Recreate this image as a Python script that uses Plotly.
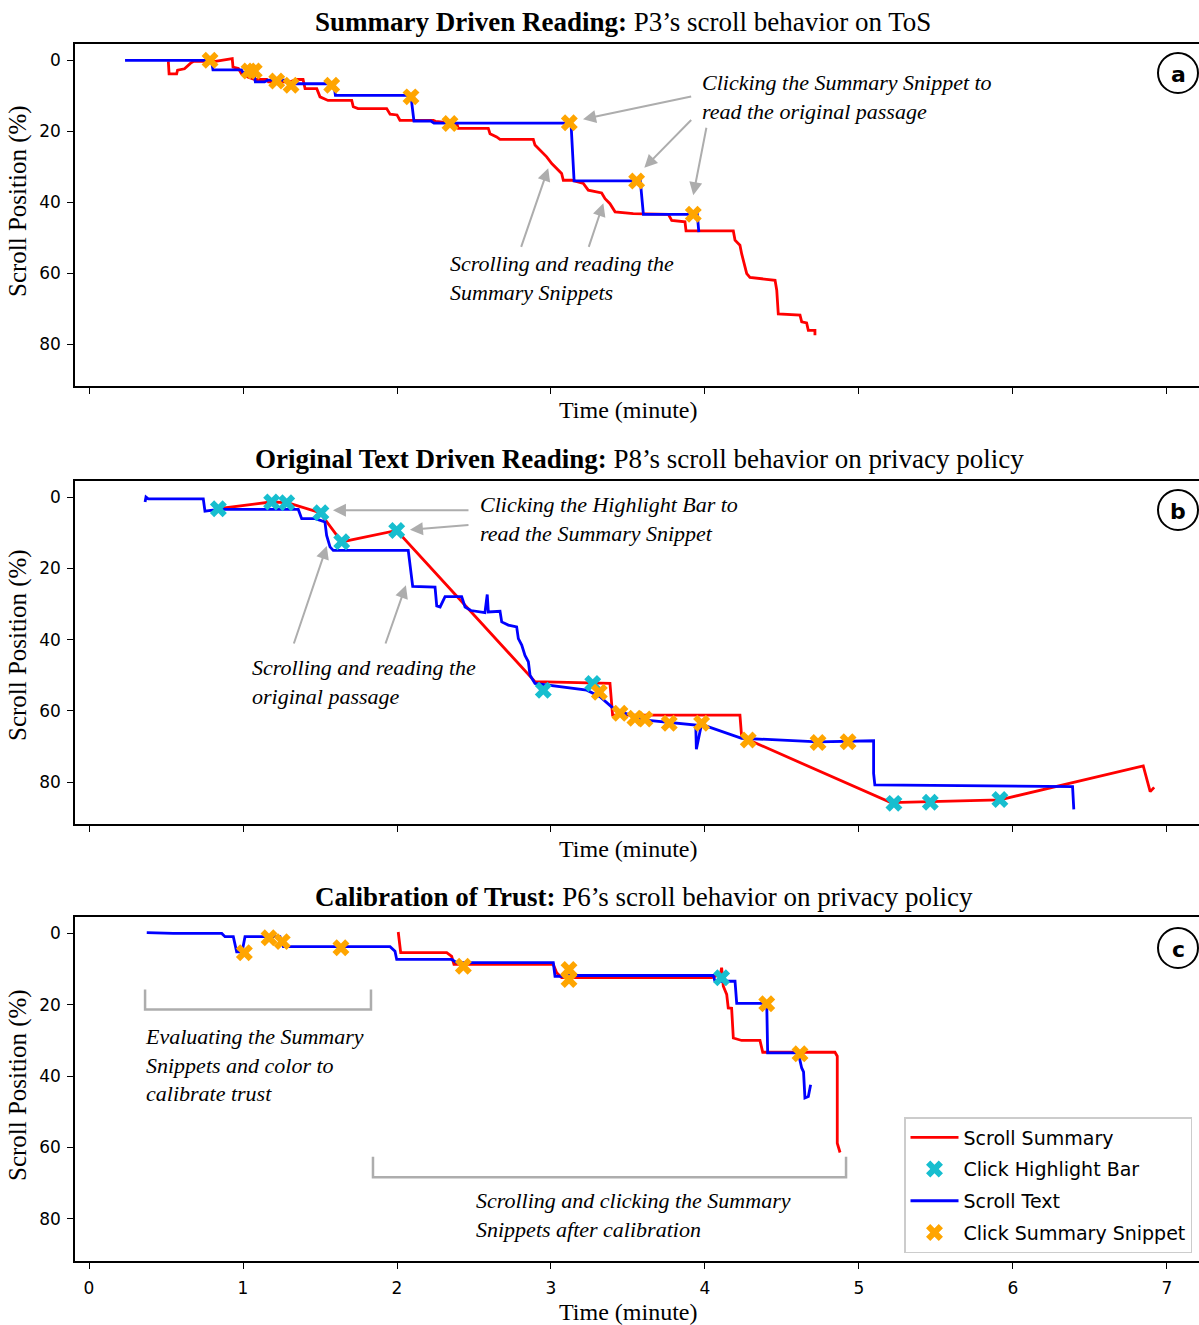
import plotly.graph_objects as go

# ---------------- data (time in minutes, scroll position in %) ----------------
# Panel a: P3 on ToS
a_summary_x = [0.515, 0.520, 0.569, 0.575, 0.62, 0.64, 0.66, 0.68, 0.82, 0.90, 0.93, 0.935, 0.97, 0.99, 1.03,
               1.078, 1.154, 1.165, 1.30, 1.35, 1.39, 1.403, 1.479, 1.50, 1.552, 1.706, 1.716, 1.747, 1.933,
               1.955, 2.00, 2.019, 2.236, 2.25, 2.388, 2.398, 2.593, 2.604, 2.647, 2.669, 2.885, 2.896, 2.929,
               2.972, 3.005, 3.026, 3.069, 3.080, 3.134, 3.210, 3.242, 3.329, 3.351, 3.383, 3.416, 3.534, 3.762,
               3.784, 3.870, 3.877, 4.184, 4.195, 4.227, 4.238, 4.271, 4.292, 4.455, 4.466, 4.476, 4.617, 4.628,
               4.660, 4.671, 4.714, 4.714]
a_summary_y = [0.3, 3.8, 3.8, 2.8, 2.4, 1.6, 0.8, 0.3, 0.3, -0.3, -0.5, 1.9, 2.3, 3.8, 4.7,
               5.4, 5.4, 6.1, 6.1, 5.4, 5.4, 8.0, 8.0, 10.3, 11.3, 11.3, 13.1, 13.6, 13.6,
               15.2, 15.4, 16.9, 16.9, 17.2, 17.8, 19.2, 19.2, 20.7, 21.6, 22.3, 22.3, 23.9, 25.4,
               27.2, 29.1, 30.0, 31.9, 33.8, 33.8, 34.7, 36.6, 37.4, 39.0, 40.4, 42.7, 43.2, 43.4,
               45.1, 45.5, 48.1, 48.1, 50.7, 52.1, 54.5, 60.1, 61.2, 62.0, 64.8, 71.5, 71.8, 73.7,
               74.0, 76.1, 76.1, 77.5]
a_text_x = [0.234, 0.795, 0.805, 0.99, 1.00, 1.07, 1.08, 1.14, 1.16, 1.27, 1.30, 1.59, 1.60, 2.09, 2.11,
            2.22, 2.24, 3.13, 3.15, 3.58, 3.60, 3.95, 3.96]
a_text_y = [0.0, 0.0, 2.7, 2.7, 3.5, 3.5, 6.1, 6.1, 5.6, 5.6, 6.6, 6.6, 9.9, 9.9, 17.1,
            17.1, 17.7, 17.7, 34.0, 34.0, 43.4, 43.4, 48.4]
a_hl_x = []
a_hl_y = []
a_snip_x = [0.786, 1.039, 1.073, 1.219, 1.312, 1.576, 2.091, 2.344, 3.119, 3.556, 3.924]
a_snip_y = [0.0, 3.0, 3.0, 5.8, 7.0, 7.0, 10.3, 17.8, 17.6, 34.0, 43.4]

# Panel b: P8 on privacy policy
b_summary_x = [0.840, 1.180, 1.288, 1.500, 1.641, 1.998, 2.896, 3.383, 3.40, 4.227, 4.238, 5.207, 5.915,
               6.846, 6.891, 6.917]
b_summary_y = [3.2, 1.3, 1.5, 4.3, 12.5, 9.3, 51.8, 52.3, 61.2, 61.2, 67.3, 85.8, 85.0,
               75.5, 82.7, 81.5]
b_text_x = [0.364, 0.370, 0.385, 0.742, 0.753, 0.80, 0.840, 1.359, 1.381, 1.468, 1.532, 1.543, 1.565, 1.586,
            2.073, 2.102, 2.247, 2.258, 2.28, 2.312, 2.420, 2.442, 2.48, 2.571, 2.586, 2.593, 2.669, 2.680,
            2.723, 2.777, 2.788, 2.810, 2.831, 2.853, 2.864, 2.896, 3.232, 3.318, 3.418, 3.617, 3.940, 3.944,
            3.977, 4.238, 4.734, 5.095, 5.095, 5.103, 6.387, 6.395]
b_text_y = [1.3, -0.1, 0.4, 0.4, 3.9, 3.7, 3.4, 3.4, 6.0, 6.0, 6.9, 10.7, 13.9, 14.9,
            14.9, 25.0, 25.2, 30.5, 30.8, 27.9, 27.9, 30.8, 31.8, 32.4, 27.3, 32.2, 32.0, 35.0,
            35.9, 36.4, 39.7, 41.5, 44.4, 46.2, 50.0, 52.3, 54.2, 56.0, 59.8, 62.6, 64.0, 70.8,
            63.8, 67.7, 68.7, 68.4, 77.6, 80.8, 81.3, 87.7]
b_hl_x = [0.840, 1.186, 1.284, 1.506, 1.641, 1.998, 2.950, 3.271, 5.227, 5.463, 5.915]
b_hl_y = [3.2, 1.3, 1.5, 4.3, 12.5, 9.3, 54.2, 52.3, 86.0, 85.7, 84.9]
b_snip_x = [3.314, 3.448, 3.545, 3.610, 3.768, 3.978, 4.281, 4.734, 4.929]
b_snip_y = [54.8, 60.7, 62.1, 62.3, 63.5, 63.5, 68.2, 68.9, 68.7]

# Panel c: P6 on privacy policy
c_summary_x = [2.008, 2.024, 2.323, 2.355, 2.370, 3.015, 3.037, 3.069, 4.043, 4.100, 4.108, 4.119, 4.141,
               4.151, 4.173, 4.184, 4.238, 4.357, 4.375, 4.844, 4.859, 4.859, 4.877]
c_summary_y = [-0.4, 5.4, 5.4, 6.4, 8.7, 8.7, 11.0, 12.4, 12.4, 11.5, 9.6, 14.8, 17.1,
               20.9, 21.0, 29.3, 30.0, 30.0, 33.3, 33.3, 34.4, 58.8, 61.4]
c_text_x = [0.375, 0.547, 0.862, 0.883, 0.937, 0.959, 0.994, 1.013, 1.143, 1.24, 1.262, 1.955, 1.987, 1.998,
            2.355, 2.388, 3.015, 3.026, 3.069, 3.10, 4.054, 4.065, 4.195, 4.206, 4.401, 4.407, 4.606, 4.628,
            4.640, 4.649, 4.671, 4.686]
c_text_y = [-0.2, 0.0, 0.0, 0.9, 0.9, 5.2, 5.2, 0.9, 0.9, 0.9, 3.7, 3.7, 5.0, 7.3,
            7.3, 8.2, 8.2, 12.0, 12.0, 11.8, 11.8, 13.4, 13.4, 19.6, 19.6, 33.5, 33.5, 37.7,
            38.8, 46.1, 45.7, 42.4]
c_hl_x = [4.108]
c_hl_y = [12.4]
c_snip_x = [1.009, 1.169, 1.255, 1.636, 2.431, 3.117, 3.117, 4.401, 4.617]
c_snip_y = [5.4, 1.2, 2.3, 4.0, 9.2, 10.1, 12.9, 19.7, 33.7]

panel_titles = [
    "<b>Summary Driven Reading:</b> P3’s scroll behavior on ToS",
    "<b>Original Text Driven Reading:</b> P8’s scroll behavior on privacy policy",
    "<b>Calibration of Trust:</b> P6’s scroll behavior on privacy policy",
]
panel_letters = ["a", "b", "c"]
x_ticks = [0, 1, 2, 3, 4, 5, 6, 7]
y_ticks = [0, 20, 40, 60, 80]

# ---------------- layout geometry ----------------
W, H = 1199, 1325
def px_x(p):
    return p / W
def px_y(p):
    return 1 - p / H

panels = [
    dict(top=44, bottom=386, title_y=22, title_x=623, xtitle_y=410, ylab_y=201, circ_y=73,
         data=(a_summary_x, a_summary_y, a_text_x, a_text_y, a_hl_x, a_hl_y, a_snip_x, a_snip_y)),
    dict(top=481, bottom=824, title_y=459, title_x=639, xtitle_y=849, ylab_y=645, circ_y=510,
         data=(b_summary_x, b_summary_y, b_text_x, b_text_y, b_hl_x, b_hl_y, b_snip_x, b_snip_y)),
    dict(top=917, bottom=1261, title_y=897, title_x=644, xtitle_y=1312, ylab_y=1085, circ_y=948,
         data=(c_summary_x, c_summary_y, c_text_x, c_text_y, c_hl_x, c_hl_y, c_snip_x, c_snip_y)),
]

RED, BLUE, CYAN, ORANGE = "#FF0000", "#0000FF", "#17BECF", "#FFA500"
GRAY = "#ADADAD"
SERIF = "Liberation Serif, Times New Roman, serif"
SANS = "DejaVu Sans, sans-serif"

fig = go.Figure()
annotations = []
shapes = []
layout = {}

for i, p in enumerate(panels):
    k = "" if i == 0 else str(i + 1)
    xa, ya = "x" + k, "y" + k
    sx, sy, tx, ty, hx, hy, ox, oy = p["data"]
    last = (i == 2)
    fig.add_trace(go.Scatter(x=sx, y=sy, mode="lines", line=dict(color=RED, width=2.8),
                             name="Scroll Summary", legendgroup="g1", legendrank=1,
                             showlegend=last, xaxis=xa, yaxis=ya))
    fig.add_trace(go.Scatter(x=tx, y=ty, mode="lines", line=dict(color=BLUE, width=2.8),
                             name="Scroll Text", legendgroup="g3", legendrank=3,
                             showlegend=last, xaxis=xa, yaxis=ya))
    fig.add_trace(go.Scatter(x=hx, y=hy, mode="markers",
                             marker=dict(symbol="x", color=CYAN, size=15, line=dict(width=0)),
                             name="Click Highlight Bar", legendgroup="g2", legendrank=2,
                             showlegend=last, xaxis=xa, yaxis=ya))
    fig.add_trace(go.Scatter(x=ox, y=oy, mode="markers",
                             marker=dict(symbol="x", color=ORANGE, size=15, line=dict(width=0)),
                             name="Click Summary Snippet", legendgroup="g4", legendrank=4,
                             showlegend=last, xaxis=xa, yaxis=ya))

    layout["xaxis" + k] = dict(
        domain=[px_x(75), 1.0], range=[-0.091, 7.208], anchor=ya,
        tickvals=x_ticks, ticktext=[str(v) for v in x_ticks], showticklabels=last,
        ticks="outside", ticklen=6, tickwidth=1.3, tickcolor="black",
        showline=True, linecolor="black", linewidth=1.6, mirror=True,
        showgrid=False, zeroline=False, ticklabelstandoff=5,
        tickfont=dict(family=SANS, size=17, color="black"))
    layout["yaxis" + k] = dict(
        domain=[px_y(p["bottom"]), px_y(p["top"])], range=[91.8, -4.6], anchor=xa,
        tickvals=y_ticks, ticks="outside", ticklen=6, tickwidth=1.3, tickcolor="black",
        showline=True, linecolor="black", linewidth=1.6, mirror=False,
        showgrid=False, zeroline=False, ticklabelstandoff=3,
        tickfont=dict(family=SANS, size=17, color="black"))

    annotations.append(dict(text=panel_titles[i], xref="paper", yref="paper",
                            x=px_x(p["title_x"]), y=px_y(p["title_y"]), xanchor="center", yanchor="middle",
                            showarrow=False, font=dict(family=SERIF, size=27, color="black")))
    annotations.append(dict(text="Time (minute)", xref="paper", yref="paper",
                            x=px_x(628), y=px_y(p["xtitle_y"]), xanchor="center", yanchor="middle",
                            showarrow=False, font=dict(family=SERIF, size=24, color="black")))
    annotations.append(dict(text="Scroll Position (%)", xref="paper", yref="paper", textangle=-90,
                            x=px_x(18), y=px_y(p["ylab_y"]), xanchor="center", yanchor="middle",
                            showarrow=False, font=dict(family=SERIF, size=25, color="black")))
    cy = p["circ_y"]
    shapes.append(dict(type="circle", xref="paper", yref="paper",
                       x0=px_x(1158), x1=px_x(1198), y0=px_y(cy + 20), y1=px_y(cy - 20),
                       line=dict(color="black", width=2), fillcolor="white", layer="above"))
    annotations.append(dict(text="<b>%s</b>" % panel_letters[i], xref="paper", yref="paper",
                            x=px_x(1178), y=px_y(cy + 1), xanchor="center", yanchor="middle",
                            showarrow=False, font=dict(family=SANS, size=22, color="black")))

# ---------------- explanatory text ----------------
ITAL = dict(family=SERIF, size=22, color="black")
def note(text, x, y):
    annotations.append(dict(text="<i>%s</i>" % text, xref="paper", yref="paper",
                            x=px_x(x), y=px_y(y), xanchor="left", yanchor="middle", align="left",
                            showarrow=False, font=ITAL))

note("Clicking the Summary Snippet to<br>read the original passage", 700, 97)
note("Scrolling and reading the<br>Summary Snippets", 448, 278)
note("Clicking the Highlight Bar to<br>read the Summary Snippet", 478, 519)
note("Scrolling and reading the<br>original passage", 250, 682)
note("Evaluating the Summary<br>Snippets and color to<br>calibrate trust", 143, 1065)
note("Scrolling and clicking the Summary<br>Snippets after calibration", 474, 1215)

def arrow(xref, yref, tail, head):
    annotations.append(dict(text="", xref=xref, yref=yref, axref=xref, ayref=yref,
                            x=head[0], y=head[1], ax=tail[0], ay=tail[1],
                            showarrow=True, arrowhead=2, arrowsize=1.3, arrowwidth=2,
                            arrowcolor=GRAY, standoff=0, startstandoff=0))

arrow("x", "y", (3.920, 10.1), (3.208, 16.6))
arrow("x", "y", (3.920, 16.4), (3.606, 30.3))
arrow("x", "y", (4.011, 18.6), (3.924, 38.0))
arrow("x", "y", (2.803, 53.0), (2.982, 30.4))
arrow("x", "y", (3.242, 53.0), (3.340, 40.3))
arrow("x2", "y2", (2.474, 3.6), (1.584, 3.6))
arrow("x2", "y2", (2.474, 7.7), (2.084, 9.1))
arrow("x2", "y2", (1.327, 41.5), (1.544, 13.7))
arrow("x2", "y2", (1.922, 41.5), (2.058, 24.7))

# brackets in panel c
shapes.append(dict(type="path", xref="x3", yref="y3",
                   path="M 0.364 15.7 L 0.364 21.3 L 1.831 21.3 L 1.831 15.7",
                   line=dict(color=GRAY, width=2.5)))
shapes.append(dict(type="path", xref="x3", yref="y3",
                   path="M 1.844 62.6 L 1.844 68.3 L 4.916 68.3 L 4.916 62.6",
                   line=dict(color=GRAY, width=2.5)))

fig.update_layout(
    width=W, height=H, autosize=False,
    margin=dict(l=0, r=0, t=0, b=0),
    paper_bgcolor="white", plot_bgcolor="white",
    annotations=annotations, shapes=shapes,
    legend=dict(x=px_x(904), y=px_y(1117), xanchor="left", yanchor="top",
                bgcolor="rgba(255,255,255,0.85)", bordercolor="#CCCCCC", borderwidth=1.5,
                font=dict(family=SANS, size=19, color="black"), tracegroupgap=4, itemwidth=48,
                traceorder="grouped"),
    **layout,
)

fig.write_html("out.html")
